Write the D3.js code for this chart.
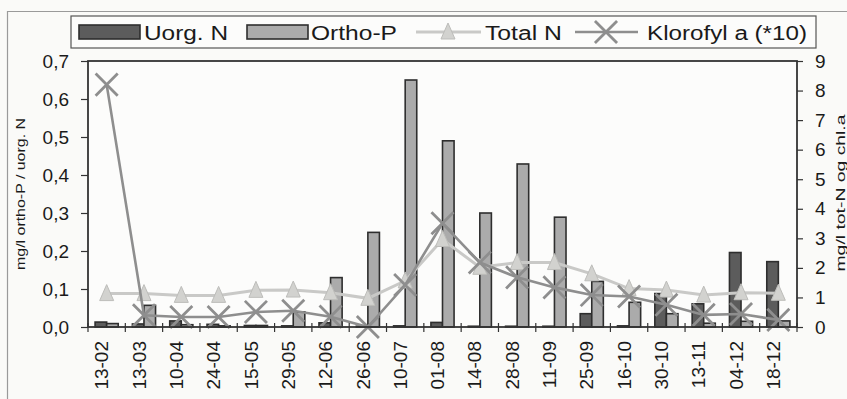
<!DOCTYPE html>
<html>
<head>
<meta charset="utf-8">
<script src="https://cdn.jsdelivr.net/npm/d3@7"></script>
<style>
  html, body { margin: 0; padding: 0; background: #fafaf8; }
  svg { display: block; }
  text { font-family: "Liberation Sans", Arial, Helvetica, sans-serif; fill: #1a1a1a; }
</style>
</head>
<body>
<svg id="chart" width="847" height="399"></svg>
<script>
// Sampling dates (dd-mm)
const dates = ["13-02","13-03","10-04","24-04","15-05","29-05","12-06","26-06","10-07","01-08",
               "14-08","28-08","11-09","25-09","16-10","30-10","13-11","04-12","18-12"];

// Left axis: mg/l
const uorgN  = [0.013,0.008,0.016,0.007,0.004,0.003,0.011,0.002,0.003,0.012,
                0.002,0.002,0.002,0.035,0.003,0.088,0.061,0.196,0.172];
const orthoP = [0.009,0.057,0.006,0.003,0.004,0.040,0.130,0.249,0.650,0.490,
                0.300,0.429,0.289,0.120,0.065,0.035,0.010,0.015,0.016];

// Right axis: mg/l tot-N and chlorophyll a (x10)
const totalN = [1.13,1.13,1.07,1.07,1.24,1.25,1.16,0.97,1.56,2.96,
                2.02,2.18,2.18,1.80,1.30,1.25,1.08,1.16,1.14];
const klorofyl = [8.20,0.40,0.34,0.34,0.51,0.55,0.35,0.00,1.42,3.51,
                  2.18,1.68,1.34,1.08,1.03,0.75,0.41,0.44,0.24];

const leftTicks  = [0,0.1,0.2,0.3,0.4,0.5,0.6,0.7];
const rightTicks = [0,1,2,3,4,5,6,7,8,9];

const seriesNames = ["Uorg. N", "Ortho-P", "Total N", "Klorofyl a (*10)"];
const leftTitle  = "mg/l ortho-P / uorg. N";
const rightTitle = "mg/l tot-N og chl.a";

const svg = d3.select("#chart");
const plot = { left: 88, right: 797, top: 61, bottom: 327 };

const x  = d3.scaleBand().domain(dates).range([plot.left, plot.right]).paddingInner(0).paddingOuter(0);
const yL = d3.scaleLinear().domain([0, 0.7]).range([plot.bottom, plot.top]);
const yR = d3.scaleLinear().domain([0, 9]).range([plot.bottom, plot.top]);

const comma = d3.formatLocale({ decimal: ",", thousands: ".", grouping: [3], currency: ["", ""] }).format(".1f");

const cUorg = "#5c5c5c", cOrtho = "#ababab", cEdge = "#2e2e2e";
const cTot = "#c9c9c7", cTotMark = "#d2d2cf", cKlo = "#8e8e8e";

// Narrow upright triangle marker (14 wide, 16 tall)
const tallTriangle = {
  draw(ctx) {
    ctx.moveTo(0, -9);
    ctx.lineTo(7, 7);
    ctx.lineTo(-7, 7);
    ctx.closePath();
  }
};

// Outer frame of the figure
svg.append("path").attr("d", "M7.5,399 V11.5 H847")
  .attr("fill", "none").attr("stroke", "#9a9a9a").attr("stroke-width", 1.2);

// Plot area background
svg.append("rect").attr("x", plot.left).attr("y", plot.top)
  .attr("width", plot.right - plot.left).attr("height", plot.bottom - plot.top)
  .attr("fill", "#fcfcfb");

// Bars
const bw = x.step() * 0.31;
const center = d => x(d) + x.bandwidth() / 2;

svg.append("g").selectAll("rect").data(dates).join("rect")
  .attr("x", d => center(d) - bw)
  .attr("y", (d, i) => yL(uorgN[i]))
  .attr("width", bw)
  .attr("height", (d, i) => yL(0) - yL(uorgN[i]))
  .attr("fill", cUorg).attr("stroke", cEdge).attr("stroke-width", 1.6);

svg.append("g").selectAll("rect").data(dates).join("rect")
  .attr("x", d => center(d))
  .attr("y", (d, i) => yL(orthoP[i]))
  .attr("width", bw)
  .attr("height", (d, i) => yL(0) - yL(orthoP[i]))
  .attr("fill", cOrtho).attr("stroke", cEdge).attr("stroke-width", 1.6);

// Lines
const lineR = d3.line().x((v, i) => center(dates[i])).y(v => yR(v));

svg.append("path").datum(totalN).attr("d", lineR)
  .attr("fill", "none").attr("stroke", cTot).attr("stroke-width", 3);

const tri = d3.symbol().type(tallTriangle);
svg.append("g").selectAll("path").data(totalN).join("path")
  .attr("d", tri)
  .attr("transform", (v, i) => `translate(${center(dates[i])},${yR(v)})`)
  .attr("fill", cTotMark).attr("stroke", "#bdbdba").attr("stroke-width", 1);

svg.append("path").datum(klorofyl).attr("d", lineR)
  .attr("fill", "none").attr("stroke", cKlo).attr("stroke-width", 2.6);

const xMark = d3.symbol().type(d3.symbolX).size(320);
svg.append("g").selectAll("path").data(klorofyl).join("path")
  .attr("d", xMark)
  .attr("transform", (v, i) => `translate(${center(dates[i])},${yR(v)})`)
  .attr("fill", "none").attr("stroke", cKlo).attr("stroke-width", 2.8);

// Plot border
svg.append("rect").attr("x", plot.left).attr("y", plot.top)
  .attr("width", plot.right - plot.left).attr("height", plot.bottom - plot.top)
  .attr("fill", "none").attr("stroke", "#333").attr("stroke-width", 1.8);

// Left axis
const gL = svg.append("g").attr("transform", `translate(${plot.left},0)`)
  .call(d3.axisLeft(yL).tickValues(leftTicks).tickFormat(comma).tickSize(7).tickPadding(12));
gL.select(".domain").remove();
gL.selectAll("line").attr("stroke", "#333").attr("stroke-width", 1.2);
gL.selectAll("text").attr("font-size", 19).attr("fill", "#1a1a1a")
  .attr("font-family", "'Liberation Sans', Arial, sans-serif");

// Right axis
const gR = svg.append("g").attr("transform", `translate(${plot.right},0)`)
  .call(d3.axisRight(yR).tickValues(rightTicks).tickFormat(d3.format("d")).tickSize(6).tickPadding(12));
gR.select(".domain").remove();
gR.selectAll("line").attr("stroke", "#333").attr("stroke-width", 1.2);
gR.selectAll("text").attr("font-size", 19).attr("fill", "#1a1a1a")
  .attr("font-family", "'Liberation Sans', Arial, sans-serif");

// Category boundary ticks on the x axis
const bounds = dates.map(d => x(d)).concat([plot.right]);
svg.append("g").selectAll("line").data(bounds).join("line")
  .attr("x1", d => d).attr("x2", d => d)
  .attr("y1", plot.bottom - 4).attr("y2", plot.bottom + 5)
  .attr("stroke", "#333").attr("stroke-width", 1.2);

// Category labels (rotated)
svg.append("g").selectAll("text").data(dates).join("text")
  .attr("transform", d => `translate(${center(d) - 5},341) rotate(-90)`)
  .attr("text-anchor", "end").attr("dy", "0.35em")
  .attr("font-size", 19)
  .text(d => d);

// Axis titles
svg.append("text")
  .attr("transform", "translate(20,194) rotate(-90)")
  .attr("text-anchor", "middle").attr("dy", "0.35em")
  .attr("font-size", 13.5).attr("textLength", 152).attr("lengthAdjust", "spacingAndGlyphs")
  .text(leftTitle);

svg.append("text")
  .attr("transform", "translate(840,193) rotate(-90)")
  .attr("text-anchor", "middle").attr("dy", "0.35em")
  .attr("font-size", 13.5).attr("textLength", 157).attr("lengthAdjust", "spacingAndGlyphs")
  .text(rightTitle);

// Legend
const lg = svg.append("g");
lg.append("rect").attr("x", 71).attr("y", 16).attr("width", 745).attr("height", 32)
  .attr("fill", "#fcfcfb").attr("stroke", "#555").attr("stroke-width", 1.2);

const legendBase = 39.5;
lg.append("rect").attr("x", 79).attr("y", 25).attr("width", 61).attr("height", 14)
  .attr("fill", cUorg).attr("stroke", cEdge).attr("stroke-width", 1.6);
lg.append("text").attr("x", 144).attr("y", legendBase).attr("font-size", 19.5)
  .attr("textLength", 84).attr("lengthAdjust", "spacingAndGlyphs").text(seriesNames[0]);

lg.append("rect").attr("x", 247).attr("y", 25).attr("width", 61).attr("height", 14)
  .attr("fill", cOrtho).attr("stroke", cEdge).attr("stroke-width", 1.6);
lg.append("text").attr("x", 311).attr("y", legendBase).attr("font-size", 19.5)
  .attr("textLength", 86).attr("lengthAdjust", "spacingAndGlyphs").text(seriesNames[1]);

lg.append("line").attr("x1", 416).attr("x2", 481).attr("y1", 32).attr("y2", 32)
  .attr("stroke", cTot).attr("stroke-width", 3);
lg.append("path").attr("d", tri).attr("transform", "translate(448,32)")
  .attr("fill", cTotMark).attr("stroke", "#bdbdba").attr("stroke-width", 1);
lg.append("text").attr("x", 485).attr("y", legendBase).attr("font-size", 19.5)
  .attr("textLength", 77).attr("lengthAdjust", "spacingAndGlyphs").text(seriesNames[2]);

lg.append("line").attr("x1", 575).attr("x2", 638).attr("y1", 32).attr("y2", 32)
  .attr("stroke", cKlo).attr("stroke-width", 2.6);
lg.append("path").attr("d", xMark).attr("transform", "translate(606,32)")
  .attr("fill", "none").attr("stroke", cKlo).attr("stroke-width", 2.8);
lg.append("text").attr("x", 647).attr("y", legendBase).attr("font-size", 19.5)
  .attr("textLength", 160).attr("lengthAdjust", "spacingAndGlyphs").text(seriesNames[3]);
</script>
</body>
</html>
